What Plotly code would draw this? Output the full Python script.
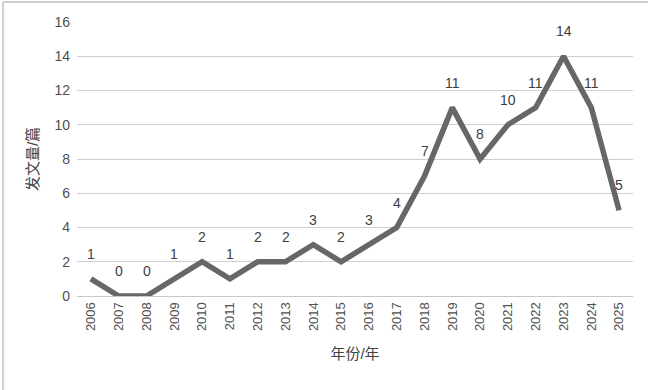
import plotly.graph_objects as go

years = [str(y) for y in range(2006, 2026)]
counts = [1, 0, 0, 1, 2, 1, 2, 2, 3, 2, 3, 4, 7, 11, 8, 10, 11, 14, 11, 5]
y_ticks = [0, 2, 4, 6, 8, 10, 12, 14, 16]

font_family = "Liberation Sans, Noto Sans CJK SC, sans-serif"

fig = go.Figure()
fig.add_trace(go.Scatter(
    x=years, y=counts, mode="lines",
    line=dict(color="#676767", width=5.5),
    showlegend=False,
))

# category axis: position annotations by category index
annotations = [
    dict(x=i, y=v, xref="x", yref="y", text=str(v), showarrow=False,
         yanchor="middle", yshift=25,
         font=dict(size=14, color="#404040", family=font_family))
    for i, v in enumerate(counts)
]

fig.update_layout(
    width=648, height=390,
    margin=dict(l=77, r=15, t=22, b=94),
    paper_bgcolor="white", plot_bgcolor="white",
    font=dict(family=font_family, color="#555555"),
    annotations=annotations,
    xaxis=dict(
        type="category", tickangle=-90, range=[-0.5, 19.5],
        showgrid=False, showline=True, linecolor="#c8c8c8", linewidth=1,
        ticks="", tickfont=dict(size=13, color="#505050"),
        title=dict(text="年份/年", font=dict(size=15, color="#444444"), standoff=18),
    ),
    yaxis=dict(
        range=[0, 16], tickvals=y_ticks, showgrid=True, gridcolor="#cfcfcf",
        gridwidth=1, zeroline=False, ticks="", ticklabelstandoff=6,
        tickfont=dict(size=14, color="#505050"),
        title=dict(text="发文量/篇", font=dict(size=15, color="#444444"), standoff=12),
    ),
    shapes=[
        dict(type="line", xref="paper", yref="paper",
             x0=-0.133, x1=-0.133, y0=-0.35, y1=1.073,
             line=dict(color="#d0d0d0", width=2)),
        dict(type="line", xref="paper", yref="paper",
             x0=-0.133, x1=1.03, y0=1.073, y1=1.073,
             line=dict(color="#d0d0d0", width=2)),
    ],
)

fig.write_html("out.html")
